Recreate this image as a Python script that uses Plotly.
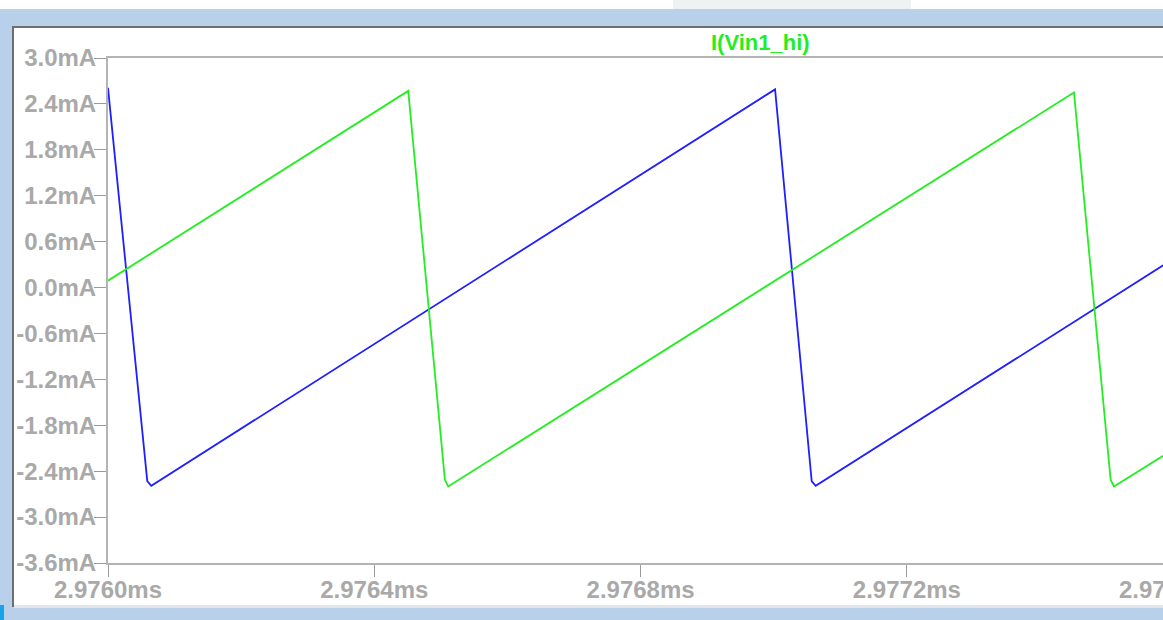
import plotly.graph_objects as go

# ---------------- data ----------------
# time in ms, current in mA
t_blue = [2.976000, 2.976059, 2.976065, 2.977002, 2.977057, 2.977063, 2.977585]
i_blue = [2.61, -2.53, -2.59, 2.59, -2.53, -2.59, 0.29]

t_green = [2.976000, 2.976451, 2.976506, 2.976511, 2.977451, 2.977506, 2.977511, 2.977585]
i_green = [0.09, 2.57, -2.51, -2.60, 2.55, -2.51, -2.60, -2.20]

y_ticks = [3.0, 2.4, 1.8, 1.2, 0.6, 0.0, -0.6, -1.2, -1.8, -2.4, -3.0, -3.6]
y_ticklabels = ["3.0mA", "2.4mA", "1.8mA", "1.2mA", "0.6mA", "0.0mA", "-0.6mA",
                "-1.2mA", "-1.8mA", "-2.4mA", "-3.0mA", "-3.6mA"]
x_ticks = [2.9760, 2.9764, 2.9768, 2.9772, 2.9776]
x_ticklabels = ["2.9760ms", "2.9764ms", "2.9768ms", "2.9772ms", "2.9776ms"]

trace_title = "I(Vin1_hi)"

# ---------------- layout constants ----------------
W, H = 1163, 620
X_RANGE = [2.9760, 2.9775847]
Y_RANGE = [-3.6, 3.0]
X_DOM = [108 / W, 1.0]
Y_DOM = [1 - 563 / H, 1 - 58 / H]

GRAY = "#A9A9A9"
FONT = "Liberation Sans, Arial, sans-serif"
BLUE = "#1F1FFF"
GREEN = "#22EE22"


def px(x):
    return x / W


def py(y):
    return 1 - y / H


fig = go.Figure()
fig.add_trace(go.Scatter(x=t_blue, y=i_blue, mode="lines", name="I(Vin1_lo)",
                         line=dict(color=BLUE, width=1.8), showlegend=False))
fig.add_trace(go.Scatter(x=t_green, y=i_green, mode="lines", name=trace_title,
                         line=dict(color=GREEN, width=1.8), showlegend=False))

shapes = [
    # top white strip of title bar
    dict(type="rect", xref="paper", yref="paper", x0=0, x1=1, y0=py(9), y1=1,
         fillcolor="white", line_width=0, layer="below"),
    dict(type="rect", xref="paper", yref="paper", x0=px(673), x1=px(911), y0=py(9), y1=1,
         fillcolor="#F0F1F1", line_width=0, layer="below"),
    # white panel
    dict(type="rect", xref="paper", yref="paper", x0=px(12), x1=1, y0=py(607), y1=py(26),
         fillcolor="white", line_width=0, layer="below"),
    # panel dark border (left / top)
    dict(type="rect", xref="paper", yref="paper", x0=px(12), x1=px(14), y0=py(607), y1=py(26),
         fillcolor="#6E6E6E", line_width=0, layer="below"),
    dict(type="rect", xref="paper", yref="paper", x0=px(12), x1=1, y0=py(28), y1=py(26),
         fillcolor="#6E6E6E", line_width=0, layer="below"),
    # panel bottom light edge
    dict(type="rect", xref="paper", yref="paper", x0=px(14), x1=1, y0=py(608), y1=py(605),
         fillcolor="#E2E6EA", line_width=0, layer="below"),
    # cyan patch bottom-left
    dict(type="rect", xref="paper", yref="paper", x0=0, x1=px(4), y0=0, y1=py(605),
         fillcolor="#16A3E8", line_width=0, layer="below"),
    # keep the header strip of the panel clean on the right
    dict(type="rect", xref="paper", yref="paper", x0=px(1120), x1=1, y0=py(56), y1=py(28.5),
         fillcolor="white", line_width=0, layer="above"),
]


# tick at 2.9776ms lies just beyond the visible area; place its label through the axis scale
def x_to_paper(v):
    frac = (v - X_RANGE[0]) / (X_RANGE[1] - X_RANGE[0])
    return X_DOM[0] + frac * (X_DOM[1] - X_DOM[0])


annotations = [
    dict(text="<b>%s</b>" % trace_title, xref="paper", yref="paper",
         x=px(760), y=py(42), showarrow=False, xanchor="center", yanchor="middle",
         font=dict(family=FONT, size=22, color=GREEN)),
]
for v, lab in zip(x_ticks, x_ticklabels):
    if v > X_RANGE[1]:
        annotations.append(dict(text=lab, xref="paper", yref="paper", x=x_to_paper(v),
                                y=Y_DOM[0], yshift=-11, showarrow=False,
                                xanchor="center", yanchor="top",
                                font=dict(family=FONT, size=24, color=GRAY, weight="bold")))

fig.update_layout(
    width=W, height=H,
    autosize=False,
    dragmode=False,
    margin=dict(l=0, r=0, t=0, b=0, pad=0, autoexpand=False),
    paper_bgcolor="#B8D0EA",
    plot_bgcolor="white",
    shapes=shapes,
    annotations=annotations,
    xaxis=dict(domain=X_DOM, range=X_RANGE, tickvals=x_ticks, ticktext=x_ticklabels,
               automargin=False, ticklabelstandoff=-8, fixedrange=True,
               showgrid=False, zeroline=False, showline=True, linecolor="#B4B4B4",
               linewidth=2, mirror=True, ticks="outside", ticklen=12, tickwidth=1,
               tickcolor="#9A9A9A",
               tickfont=dict(family=FONT, size=24, color=GRAY, weight="bold")),
    yaxis=dict(domain=Y_DOM, range=Y_RANGE, tickvals=y_ticks, ticktext=y_ticklabels,
               automargin=False, ticklabelstandoff=-7, fixedrange=True,
               showgrid=False, zeroline=False, showline=True, linecolor="#B4B4B4",
               linewidth=2, ticks="outside", ticklen=12, tickwidth=1,
               tickcolor="#9A9A9A",
               tickfont=dict(family=FONT, size=24, color=GRAY, weight="bold")),
)

fig.write_html("out.html", config={"displayModeBar": False, "staticPlot": True},
               post_script="document.body.style.margin='0';")
